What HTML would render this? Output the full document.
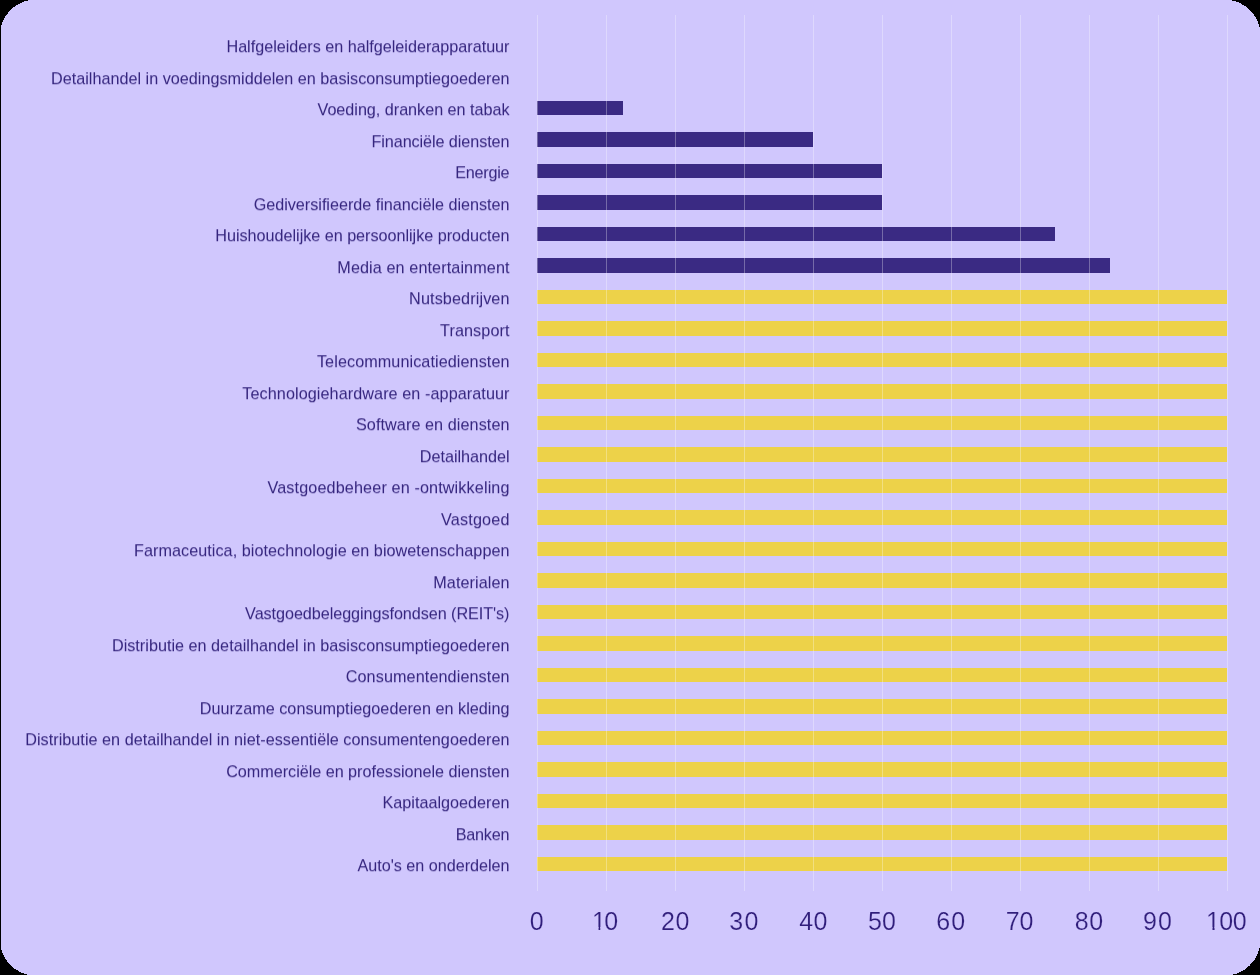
<!DOCTYPE html>
<html lang="nl">
<head>
<meta charset="utf-8">
<title>Chart</title>
<style>
html,body{margin:0;padding:0;background:#000;}
body{width:1260px;height:975px;position:relative;overflow:hidden;font-family:"Liberation Sans",sans-serif;}
#card{position:absolute;left:0;top:0;width:1260px;height:975px;display:block;}
#edge{position:absolute;left:0;top:0;width:1px;height:975px;background:#000;}
.bar{position:absolute;left:537px;height:14.8px;}
.d{background:#3a2a83;}
.y{background:#edd249;}
.g{position:absolute;top:15px;width:1.2px;height:876px;background:rgba(255,255,255,0.3);}
.l{position:absolute;right:750.5px;height:20px;line-height:20px;font-size:16.2px;color:#35257e;white-space:nowrap;text-align:right;}
.t{position:absolute;top:906px;width:80px;margin-left:-40px;text-align:center;font-size:25px;line-height:30px;color:#301e7b;-webkit-text-stroke:0.2px #d0c7fd;}
.t b{font-weight:normal;display:inline-block;clip-path:polygon(0 0,100% 0,100% 70%,63% 70%,63% 100%,47% 100%,47% 70%,0 70%);}
#txt,#lab{position:absolute;left:0;top:0;width:1260px;height:975px;will-change:transform;}
#lab{transform:translateY(0.25px) rotate(0.00001deg);}
</style>
</head>
<body>
<svg id="card" width="1260" height="975" viewBox="0 0 1260 975" shape-rendering="crispEdges"><rect x="-0.1" y="-0.4" width="1260.6" height="976" rx="35.8" ry="35.8" fill="#d0c7fd"/></svg>
<div id="edge"></div>
<div class="bar d" style="top:100.5px;width:86.25px"></div>
<div class="bar d" style="top:132px;width:276px"></div>
<div class="bar d" style="top:163.5px;width:345px"></div>
<div class="bar d" style="top:195px;width:345px"></div>
<div class="bar d" style="top:226.5px;width:517.5px"></div>
<div class="bar d" style="top:258px;width:572.7px"></div>
<div class="bar y" style="top:289.5px;width:690px"></div>
<div class="bar y" style="top:321px;width:690px"></div>
<div class="bar y" style="top:352.5px;width:690px"></div>
<div class="bar y" style="top:384px;width:690px"></div>
<div class="bar y" style="top:415.5px;width:690px"></div>
<div class="bar y" style="top:447px;width:690px"></div>
<div class="bar y" style="top:478.5px;width:690px"></div>
<div class="bar y" style="top:510px;width:690px"></div>
<div class="bar y" style="top:541.5px;width:690px"></div>
<div class="bar y" style="top:573px;width:690px"></div>
<div class="bar y" style="top:604.5px;width:690px"></div>
<div class="bar y" style="top:636px;width:690px"></div>
<div class="bar y" style="top:667.5px;width:690px"></div>
<div class="bar y" style="top:699px;width:690px"></div>
<div class="bar y" style="top:730.5px;width:690px"></div>
<div class="bar y" style="top:762px;width:690px"></div>
<div class="bar y" style="top:793.5px;width:690px"></div>
<div class="bar y" style="top:825px;width:690px"></div>
<div class="bar y" style="top:856.5px;width:690px"></div>
<div class="g" style="left:537.2px"></div>
<div class="g" style="left:606.2px"></div>
<div class="g" style="left:675.2px"></div>
<div class="g" style="left:744.2px"></div>
<div class="g" style="left:813.2px"></div>
<div class="g" style="left:882.2px"></div>
<div class="g" style="left:951.2px"></div>
<div class="g" style="left:1020.2px"></div>
<div class="g" style="left:1089.2px"></div>
<div class="g" style="left:1158.2px"></div>
<div class="g" style="left:1227.2px"></div>
<div id="lab">
<div class="l" style="top:36px;letter-spacing:-0.011px;margin-right:0.011px">Halfgeleiders en halfgeleiderapparatuur</div>
<div class="l" style="top:68px;letter-spacing:0.007px;margin-right:-0.007px">Detailhandel in voedingsmiddelen en basisconsumptiegoederen</div>
<div class="l" style="top:99px;letter-spacing:-0.025px;margin-right:0.025px">Voeding, dranken en tabak</div>
<div class="l" style="top:131px;letter-spacing:-0.081px;margin-right:0.081px">Financiële diensten</div>
<div class="l" style="top:162px;letter-spacing:-0.256px;margin-right:0.256px">Energie</div>
<div class="l" style="top:194px;letter-spacing:-0.018px;margin-right:0.018px">Gediversifieerde financiële diensten</div>
<div class="l" style="top:225px;letter-spacing:-0.025px;margin-right:0.025px">Huishoudelijke en persoonlijke producten</div>
<div class="l" style="top:257px;letter-spacing:0.100px;margin-right:-0.100px">Media en entertainment</div>
<div class="l" style="top:288px;letter-spacing:0.119px;margin-right:-0.119px">Nutsbedrijven</div>
<div class="l" style="top:320px;letter-spacing:0.098px;margin-right:-0.098px">Transport</div>
<div class="l" style="top:351px;letter-spacing:0.077px;margin-right:-0.077px">Telecommunicatiediensten</div>
<div class="l" style="top:383px;letter-spacing:0.080px;margin-right:-0.080px">Technologiehardware en -apparatuur</div>
<div class="l" style="top:414px;letter-spacing:0.074px;margin-right:-0.074px">Software en diensten</div>
<div class="l" style="top:446px;letter-spacing:-0.030px;margin-right:0.030px">Detailhandel</div>
<div class="l" style="top:477px;letter-spacing:0.127px;margin-right:-0.127px">Vastgoedbeheer en -ontwikkeling</div>
<div class="l" style="top:509px;letter-spacing:0.187px;margin-right:-0.187px">Vastgoed</div>
<div class="l" style="top:540px;letter-spacing:0.041px;margin-right:-0.041px">Farmaceutica, biotechnologie en biowetenschappen</div>
<div class="l" style="top:572px;letter-spacing:0.068px;margin-right:-0.068px">Materialen</div>
<div class="l" style="top:603px;letter-spacing:-0.062px;margin-right:0.062px">Vastgoedbeleggingsfondsen (REIT's)</div>
<div class="l" style="top:635px;letter-spacing:0.013px;margin-right:-0.013px">Distributie en detailhandel in basisconsumptiegoederen</div>
<div class="l" style="top:666px;letter-spacing:0.100px;margin-right:-0.100px">Consumentendiensten</div>
<div class="l" style="top:698px;letter-spacing:0.027px;margin-right:-0.027px">Duurzame consumptiegoederen en kleding</div>
<div class="l" style="top:729px;letter-spacing:0.029px;margin-right:-0.029px">Distributie en detailhandel in niet-essentiële consumentengoederen</div>
<div class="l" style="top:761px;letter-spacing:-0.028px;margin-right:0.028px">Commerciële en professionele diensten</div>
<div class="l" style="top:792px;letter-spacing:0.003px;margin-right:-0.003px">Kapitaalgoederen</div>
<div class="l" style="top:824px;letter-spacing:-0.206px;margin-right:0.206px">Banken</div>
<div class="l" style="top:855px;letter-spacing:-0.027px;margin-right:0.027px">Auto's en onderdelen</div>
</div>
<div id="txt">
<div class="t" style="left:536.77px">0</div>
<div class="t" style="left:605.84px;letter-spacing:-1.62px;text-indent:-1.62px"><b>1</b>0</div>
<div class="t" style="left:675.18px;letter-spacing:0.51px;text-indent:0.51px">20</div>
<div class="t" style="left:743.79px;letter-spacing:1.21px;text-indent:1.21px">30</div>
<div class="t" style="left:813.29px;letter-spacing:0.28px;text-indent:0.28px">40</div>
<div class="t" style="left:881.94px;letter-spacing:0.02px;text-indent:0.02px">50</div>
<div class="t" style="left:950.65px;letter-spacing:1.14px;text-indent:1.14px">60</div>
<div class="t" style="left:1019.6px">70</div>
<div class="t" style="left:1088.93px;letter-spacing:0.6px;text-indent:0.6px">80</div>
<div class="t" style="left:1157.59px;letter-spacing:1.11px;text-indent:1.11px">90</div>
<div class="t" style="left:1226.54px;letter-spacing:-0.52px;text-indent:-0.52px"><b>1</b>00</div>
</div>
</body>
</html>
